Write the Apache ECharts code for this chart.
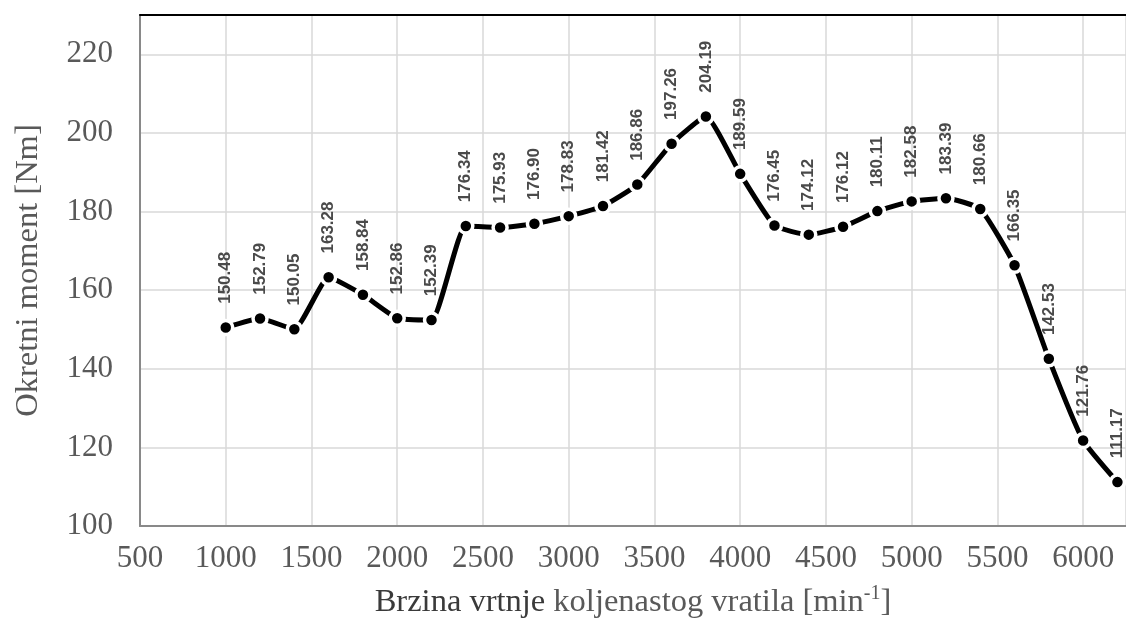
<!DOCTYPE html>
<html>
<head>
<meta charset="utf-8">
<script src="https://cdn.jsdelivr.net/npm/echarts@6/dist/echarts.min.js"></script>
<style>
html,body{margin:0;padding:0;background:#fff;}
#chart{width:1126px;height:626px;}
</style>
</head>
<body>
<div id="chart"></div>
<script>
const rpm = [1000,1200,1400,1600,1800,2000,2200,2400,2600,2800,3000,3200,3400,3600,3800,4000,4200,4400,4600,4800,5000,5200,5400,5600,5800,6000,6200];
const torque = [150.48,152.79,150.05,163.28,158.84,152.86,152.39,176.34,175.93,176.90,178.83,181.42,186.86,197.26,204.19,189.59,176.45,174.12,176.12,180.11,182.58,183.39,180.66,166.35,142.53,121.76,111.17];
const xTitleA = 'Brzina vrtnje';
const xTitleB = 'koljenastog vratila [min';
const xTitleSup = '-1';
const xTitleEnd = ']';
const yTitle = 'Okretni moment [Nm]';

const chart = echarts.init(document.getElementById('chart'), null, {renderer:'canvas'});
const serif = 'Liberation Serif, Times New Roman, serif';
const labelColor = '#595959';

chart.setOption({
  animation: false,
  grid: {left: 140, right: 0, top: 15, bottom: 100},
  xAxis: [{
    type: 'value', min: 500, max: 6250, interval: 500,
    axisLine: {show: true, onZero: false, lineStyle: {color: '#898989', width: 2}},
    axisTick: {show: false},
    axisLabel: {show: true, showMaxLabel: false, margin: 17, color: labelColor, fontFamily: serif, fontSize: 31,
      formatter: v => String(v)},
    splitLine: {show: true, lineStyle: {color: '#d9d9d9', width: 1.5}},
    name: '{a|' + xTitleA + ' }{b|' + xTitleB + '}{s|' + xTitleSup + '}{b|' + xTitleEnd + '}',
    nameLocation: 'middle', nameGap: 58,
    nameTextStyle: {
      rich: {
        a: {fontFamily: serif, fontSize: 32.5, color: '#3a3a3a'},
        b: {fontFamily: serif, fontSize: 32.5, color: labelColor},
        s: {fontFamily: serif, fontSize: 20, color: labelColor, verticalAlign: 'top', padding: [0,0,16,0]}
      }
    }
  }, {
    type: 'value', position: 'top', min: 500, max: 6250, interval: 500,
    axisLine: {show: true, lineStyle: {color: '#000', width: 2}},
    axisTick: {show: false}, axisLabel: {show: false}, splitLine: {show: false}
  }],
  yAxis: {
    type: 'value', min: 100, max: 230, interval: 20,
    axisLine: {show: true, lineStyle: {color: '#898989', width: 2}},
    axisTick: {show: false},
    axisLabel: {show: true, showMaxLabel: false, margin: 27, color: labelColor, fontFamily: serif, fontSize: 31,
      formatter: v => String(v)},
    splitLine: {show: true, lineStyle: {color: '#d9d9d9', width: 1.5}},
    name: yTitle, nameLocation: 'middle', nameGap: 95,
    nameTextStyle: {fontFamily: serif, fontSize: 32.5, color: labelColor}
  },
  series: [{
    type: 'line',
    xAxisIndex: 0,
    data: rpm.map((x, i) => [x, torque[i]]),
    smooth: 0.15,
    lineStyle: {color: '#000', width: 5},
    symbol: 'circle', symbolSize: 14,
    itemStyle: {color: '#000', borderColor: '#fff', borderWidth: 3.5},
    label: {
      show: true, position: 'top', rotate: 90, align: 'left', verticalAlign: 'middle', distance: 15,
      fontFamily: 'Liberation Sans, Arial, sans-serif',
      fontWeight: 'bold', fontSize: 17, color: '#4a4a4a',
      formatter: p => p.value[1].toFixed(2)
    },
    z: 5
  }]
});
</script>
</body>
</html>
